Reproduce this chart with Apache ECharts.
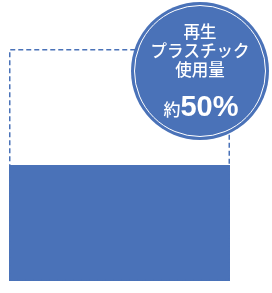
<!DOCTYPE html>
<html><head><meta charset="utf-8">
<script src="https://cdn.jsdelivr.net/npm/echarts@6/dist/echarts.min.js"></script>
<style>html,body{margin:0;padding:0;background:#fff}#c{width:272px;height:293px}</style>
</head><body><div id="c"></div>
<script>
var categories = ['プラスチック使用量'];
var totalValues = [100];
var recycledValues = [50];
var badgeLines = ['再生', 'プラスチック', '使用量'];
var badgePrefix = '約';
var badgeValue = '50%';

var blue = '#4a72b8';
var chart = echarts.init(document.getElementById('c'));
chart.setOption({
  animation: false,
  grid: {left: 9, right: 42, top: 49, bottom: 12},
  xAxis: {type: 'category', data: categories, show: false},
  yAxis: {type: 'value', min: 0, max: 100, show: false},
  series: [
    {type: 'bar', data: recycledValues, barWidth: '100%', barGap: '-100%',
     itemStyle: {color: blue}, z: 1},
    {type: 'bar', data: totalValues, barWidth: '100%', barGap: '-100%',
     itemStyle: {color: 'rgba(0,0,0,0)', borderColor: blue, borderWidth: 1.5, borderType: [5, 3]}, z: 2}
  ],
  graphic: [
    {type: 'circle', shape: {cx: 200, cy: 71, r: 69}, style: {fill: blue}, z: 10},
    {type: 'circle', shape: {cx: 200, cy: 71, r: 65.5}, style: {fill: 'none', stroke: '#fff', lineWidth: 1}, z: 11},
    {type: 'text', x: 200, y: 51, z: 12,
     style: {text: badgeLines.join('\n'), fill: '#fff', font: '500 16.5px "Noto Sans CJK JP"', lineHeight: 19,
             align: 'center', verticalAlign: 'middle'}},
    {type: 'text', x: 201, y: 108, z: 12,
     style: {text: '{a|' + badgePrefix + '}{b|' + badgeValue + '}', fill: '#fff', align: 'center', verticalAlign: 'middle',
             rich: {a: {fill: '#fff', font: '500 17px "Noto Sans CJK JP"', verticalAlign: 'middle', padding: [3, 0, 0, 0]},
                    b: {fill: '#fff', font: 'bold 29px "Liberation Sans"', verticalAlign: 'middle'}}}}
  ]
});
</script></body></html>
